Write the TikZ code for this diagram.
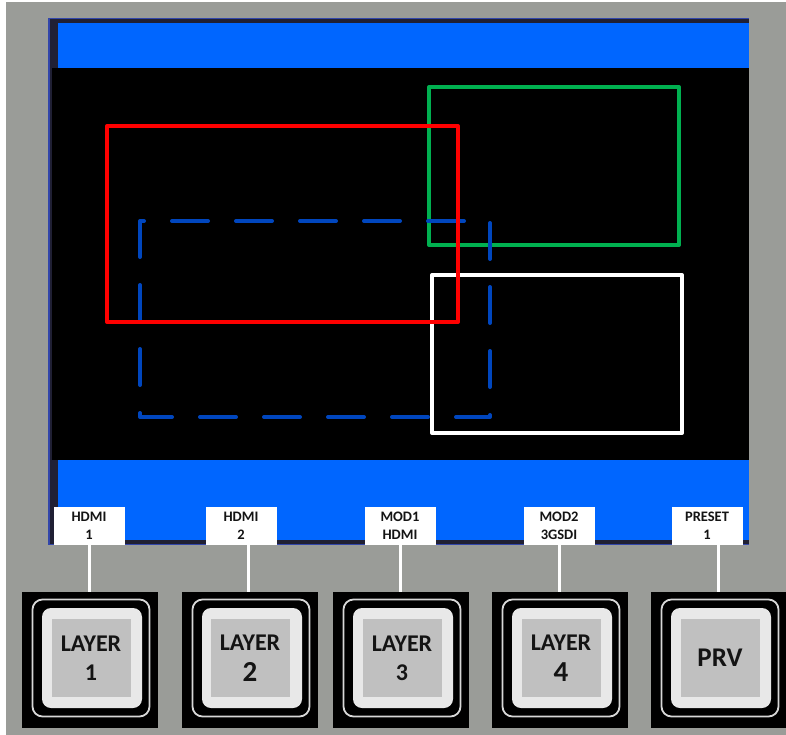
\documentclass[tikz,border=0pt]{standalone}
\usepackage{fontspec}
\setmainfont{Carlito}
\definecolor{bggray}{RGB}{154,156,152}
\definecolor{scrblue}{RGB}{0,102,255}
\definecolor{scrframe}{RGB}{32,32,52}
\definecolor{scredge}{RGB}{50,70,170}
\definecolor{redr}{RGB}{255,0,0}
\definecolor{greenr}{RGB}{0,176,80}
\definecolor{dashblue}{RGB}{0,70,190}
\definecolor{btnline}{RGB}{215,215,215}
\definecolor{btnlightc}{RGB}{232,232,232}
\definecolor{btngrayc}{RGB}{192,192,192}
\definecolor{txt}{RGB}{20,20,20}
\begin{document}
\begin{tikzpicture}[x=1pt,y=-1pt,
  lbl/.style={fill=white, minimum width=71pt, minimum height=38pt, inner sep=0pt, outer sep=0pt,
    align=center, text=txt, font=\bfseries\fontsize{14.5}{18}\selectfont},
  btnouter/.style={fill=black, minimum size=136pt, inner sep=0pt, outer sep=0pt},
  btnring/.style={draw=btnline, line width=1.8pt, rounded corners=10pt, minimum size=117pt, inner sep=0pt},
  btnlight/.style={fill=btnlightc, rounded corners=9pt, minimum size=100pt, inner sep=0pt},
  btnface/.style={fill=btngrayc, minimum width=79pt, minimum height=78pt, inner sep=0pt,
    align=center, text=txt, font=\bfseries\fontsize{24}{29}\selectfont},
  conn/.style={draw=white, line width=3pt},
  win/.style={line width=4pt, line join=round}
]
\useasboundingbox (0,0) rectangle (786,735);
\fill[white] (0,0) rectangle (786,735);
\fill[bggray] (6,2) rectangle (786,735);
% screen
\fill[scredge] (48,18) rectangle (749,545);
\fill[scrframe] (50,19) rectangle (749,544);
\fill[black] (52,68) rectangle (749,460);
\fill[scrblue] (58,23) rectangle (749,68);
\fill[scrblue] (58,460) rectangle (749,540);
% windows
\draw[win, draw=greenr] (429,87) rectangle (679,245);
\draw[win, draw=white] (432,275) rectangle (682,433);
\draw[win, draw=dashblue, line cap=round, dash pattern=on 36pt off 28pt, dash phase=32pt]
  (140,221) -- (490,221) -- (490,417) -- (140,417) -- cycle;
\draw[win, draw=redr] (107,126) rectangle (458,322);
% labels
\node[lbl] (l1) at (89,526) {HDMI\\1};
\node[lbl] (l2) at (241,526) {HDMI\\2};
\node[lbl] (l3) at (400,526) {MOD1\\HDMI};
\node[lbl] (l4) at (559,526) {MOD2\\3GSDI};
\node[lbl] (l5) at (707,526) {PRESET\\1};
% buttons
\foreach \n/\cx in {1/90,2/250,3/401,4/560,5/719}{
  \node[btnouter] (b\n) at (\cx,660) {};
  \node[btnring] (r\n) at (\cx+1,658) {};
  \node[btnlight] (g\n) at (\cx+2,658) {};
}
\node[btnface] (f1) at (91,658) {LAYER\\1};
\node[btnface] (f2) at (250,658) {LAYER\\[2pt]{\fontsize{29}{29}\selectfont 2}};
\node[btnface] (f3) at (402,658) {LAYER\\3};
\node[btnface] (f4) at (561,658) {LAYER\\[2pt]{\fontsize{29}{29}\selectfont 4}};
\node[btnface, font=\bfseries\fontsize{27}{29}\selectfont] (f5) at (720,658) {PRV};
% connectors
\foreach \n/\dx in {1/0,2/7,3/0,4/0,5/11}{
  \draw[conn] ([xshift=\dx pt]l\n.south) -- ([xshift=\dx pt]l\n.south |- b\n.north);
}
\end{tikzpicture}
\end{document}
